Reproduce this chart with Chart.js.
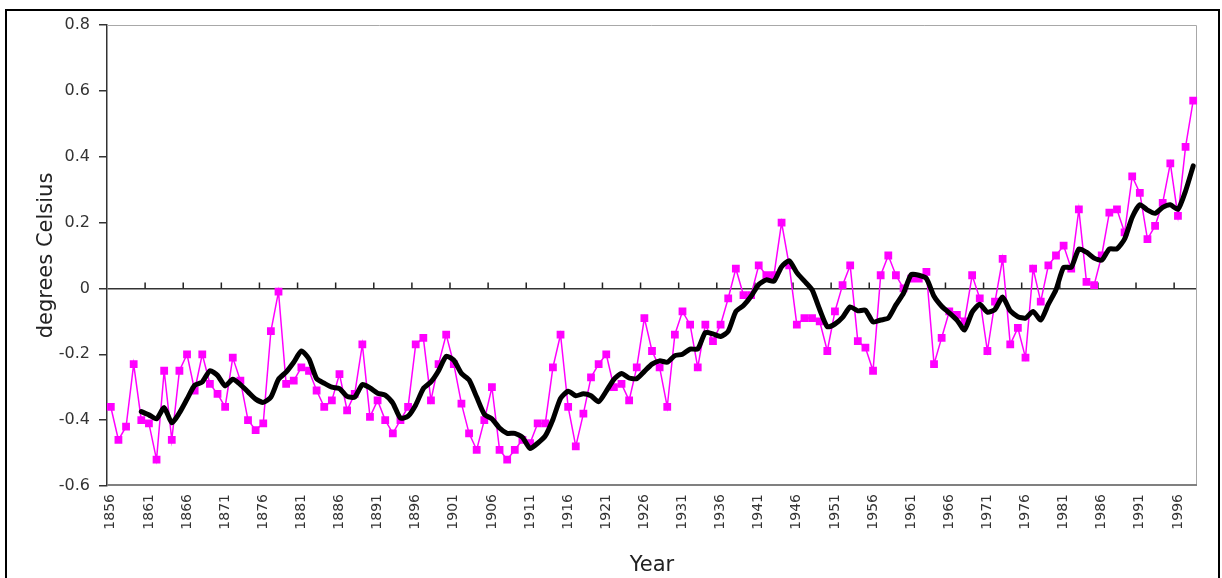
<!DOCTYPE html>
<html><head><meta charset="utf-8">
<script src="https://cdn.jsdelivr.net/npm/chart.js@4.4.0/dist/chart.umd.min.js"></script>
<style>
html,body{margin:0;padding:0;background:#fff;overflow:hidden}
#wrap{position:relative;width:1222px;height:578px;background:#fff}
#frame{position:absolute;left:5px;top:9px;width:1211px;height:600px;border:2px solid #000;pointer-events:none}
canvas{position:absolute;left:0;top:0}
</style></head><body>
<div id="wrap"><canvas id="c" width="1222" height="578"></canvas><div id="frame"></div></div>
<script>
const years = [
'1856','1857','1858','1859',
'1860','1861','1862','1863','1864','1865','1866','1867','1868','1869',
'1870','1871','1872','1873','1874','1875','1876','1877','1878','1879',
'1880','1881','1882','1883','1884','1885','1886','1887','1888','1889',
'1890','1891','1892','1893','1894','1895','1896','1897','1898','1899',
'1900','1901','1902','1903','1904','1905','1906','1907','1908','1909',
'1910','1911','1912','1913','1914','1915','1916','1917','1918','1919',
'1920','1921','1922','1923','1924','1925','1926','1927','1928','1929',
'1930','1931','1932','1933','1934','1935','1936','1937','1938','1939',
'1940','1941','1942','1943','1944','1945','1946','1947','1948','1949',
'1950','1951','1952','1953','1954','1955','1956','1957','1958','1959',
'1960','1961','1962','1963','1964','1965','1966','1967','1968','1969',
'1970','1971','1972','1973','1974','1975','1976','1977','1978','1979',
'1980','1981','1982','1983','1984','1985','1986','1987','1988','1989',
'1990','1991','1992','1993','1994','1995','1996','1997','1998'];

// annual anomalies (pink squares)
const annual = [
-0.36,-0.46,-0.42,-0.23,
-0.40,-0.41,-0.52,-0.25,-0.46,-0.25,-0.20,-0.31,-0.20,-0.29,
-0.32,-0.36,-0.21,-0.28,-0.40,-0.43,-0.41,-0.13,-0.01,-0.29,
-0.28,-0.24,-0.25,-0.31,-0.36,-0.34,-0.26,-0.37,-0.32,-0.17,
-0.39,-0.34,-0.40,-0.44,-0.40,-0.36,-0.17,-0.15,-0.34,-0.23,
-0.14,-0.23,-0.35,-0.44,-0.49,-0.40,-0.30,-0.49,-0.52,-0.49,
-0.46,-0.47,-0.41,-0.41,-0.24,-0.14,-0.36,-0.48,-0.38,-0.27,
-0.23,-0.20,-0.30,-0.29,-0.34,-0.24,-0.09,-0.19,-0.24,-0.36,
-0.14,-0.07,-0.11,-0.24,-0.11,-0.16,-0.11,-0.03,0.06,-0.02,
-0.02,0.07,0.04,0.04,0.20,0.07,-0.11,-0.09,-0.09,-0.10,
-0.19,-0.07,0.01,0.07,-0.16,-0.18,-0.25,0.04,0.10,0.04,
0.00,0.03,0.03,0.05,-0.23,-0.15,-0.07,-0.08,-0.10,0.04,
-0.03,-0.19,-0.04,0.09,-0.17,-0.12,-0.21,0.06,-0.04,0.07,
0.10,0.13,0.06,0.24,0.02,0.01,0.10,0.23,0.24,0.17,
0.34,0.29,0.15,0.19,0.26,0.38,0.22,0.43,0.57];

// smoothed curve (thick black line)
const smoothed = [
null,null,null,null,
-0.374,-0.384,-0.396,-0.362,-0.408,-0.378,-0.336,-0.294,-0.284,-0.250,
-0.264,-0.296,-0.276,-0.292,-0.314,-0.336,-0.346,-0.330,-0.276,-0.254,
-0.224,-0.190,-0.214,-0.274,-0.288,-0.300,-0.304,-0.328,-0.330,-0.292,
-0.302,-0.318,-0.324,-0.348,-0.394,-0.388,-0.354,-0.304,-0.284,-0.250,
-0.206,-0.218,-0.258,-0.278,-0.330,-0.382,-0.396,-0.424,-0.440,-0.440,
-0.452,-0.486,-0.470,-0.448,-0.398,-0.334,-0.312,-0.326,-0.320,-0.326,
-0.344,-0.312,-0.276,-0.258,-0.272,-0.274,-0.252,-0.230,-0.220,-0.224,
-0.204,-0.200,-0.184,-0.184,-0.134,-0.138,-0.146,-0.130,-0.070,-0.052,
-0.024,0.012,0.026,0.022,0.066,0.084,0.048,0.022,-0.004,-0.064,
-0.116,-0.108,-0.088,-0.056,-0.068,-0.066,-0.102,-0.096,-0.090,-0.050,
-0.014,0.042,0.040,0.030,-0.024,-0.054,-0.074,-0.096,-0.126,-0.072,
-0.048,-0.072,-0.064,-0.026,-0.068,-0.086,-0.090,-0.070,-0.096,-0.048,
-0.004,0.064,0.064,0.120,0.110,0.092,0.086,0.120,0.120,0.150,
0.216,0.254,0.238,0.228,0.246,0.254,0.240,0.296,0.372];

const tickLabels = ['1856','1861','1866','1871','1876','1881','1886','1891','1896','1901',
'1906','1911','1916','1921','1926','1931','1936','1941','1946','1951','1956','1961',
'1966','1971','1976','1981','1986','1991','1996'];

const yTicks = [-0.6,-0.4,-0.2,0,0.2,0.4,0.6,0.8];

const FONT = "'DejaVu Sans', sans-serif";

const framePlugin = {
  id: 'plotFrame',
  beforeDatasetsDraw(chart) {
    const {ctx, chartArea: a, scales: {x, y}} = chart;
    ctx.save();
    ctx.strokeStyle = '#a8a8a8'; ctx.lineWidth = 1;
    ctx.beginPath();
    ctx.moveTo(a.left, a.top + 0.5); ctx.lineTo(a.right - 0.5, a.top + 0.5);
    ctx.lineTo(a.right - 0.5, a.bottom); ctx.stroke();
    ctx.strokeStyle = '#808080'; ctx.lineWidth = 2;
    ctx.beginPath(); ctx.moveTo(a.left, a.bottom - 1); ctx.lineTo(a.right, a.bottom - 1); ctx.stroke();
    const y0 = y.getPixelForValue(0);
    ctx.strokeStyle = '#222'; ctx.lineWidth = 1.5;
    ctx.beginPath();
    years.forEach((yr, i) => {
      if (i > 0 && tickLabels.includes(yr)) {
        const px = (x.getPixelForValue(i - 1) + x.getPixelForValue(i)) / 2;
        ctx.moveTo(px, y0); ctx.lineTo(px, y0 - 6);
      }
    });
    ctx.stroke();
    ctx.restore();
  }
};

new Chart(document.getElementById('c'), {
  type: 'line',
  data: {
    labels: years,
    datasets: [
      {
        label: 'smoothed',
        data: smoothed,
        order: 0,
        borderColor: '#000000',
        borderWidth: 5,
        pointRadius: 0,
        tension: 0.2,
        borderJoinStyle: 'round',
        borderCapStyle: 'round',
        fill: false
      },
      {
        label: 'annual',
        data: annual,
        order: 1,
        borderColor: '#ff00ff',
        borderWidth: 1.5,
        pointStyle: 'rect',
        pointRadius: 5.5,
        pointHoverRadius: 5.5,
        pointBackgroundColor: '#ff00ff',
        pointBorderColor: '#ff00ff',
        pointBorderWidth: 0,
        tension: 0,
        fill: false
      }
    ]
  },
  options: {
    responsive: false,
    animation: false,
    events: [],
    layout: { padding: { left: 0, top: 25, right: 25, bottom: 0 } },
    plugins: { legend: { display: false }, tooltip: { enabled: false } },
    scales: {
      x: {
        type: 'category',
        offset: true,
        afterFit: s => { s.height = 92; },
        grid: { display: false, drawTicks: false },
        border: { display: false },
        ticks: {
          autoSkip: false,
          maxRotation: 90,
          minRotation: 90,
          padding: 8,
          color: '#333',
          font: { family: FONT, size: 14 },
          callback: (v, i) => tickLabels.includes(years[i]) ? years[i] : ''
        },
        title: {
          display: true, text: 'Year', color: '#222',
          font: { family: FONT, size: 21 },
          padding: { top: 0, bottom: 0 }
        }
      },
      y: {
        min: -0.6, max: 0.8,
        afterFit: s => { s.width = 107; },
        afterBuildTicks: s => { s.ticks = yTicks.map(v => ({ value: v })); },
        border: { display: true, color: '#333', width: 1.5 },
        grid: {
          drawOnChartArea: true,
          drawTicks: true,
          tickLength: 8,
          tickColor: '#333',
          lineWidth: 1.5,
          color: c => (c.tick && c.tick.value === 0) ? '#333' : 'rgba(0,0,0,0)'
        },
        ticks: {
          padding: 9,
          color: '#333',
          font: { family: FONT, size: 16 },
          callback: v => String(Math.round(v * 10) / 10)
        },
        title: {
          display: true, text: 'degrees Celsius', color: '#222',
          font: { family: FONT, size: 21 },
          padding: { top: 34, bottom: 0 }
        }
      }
    }
  },
  plugins: [framePlugin]
});
</script></body></html>
